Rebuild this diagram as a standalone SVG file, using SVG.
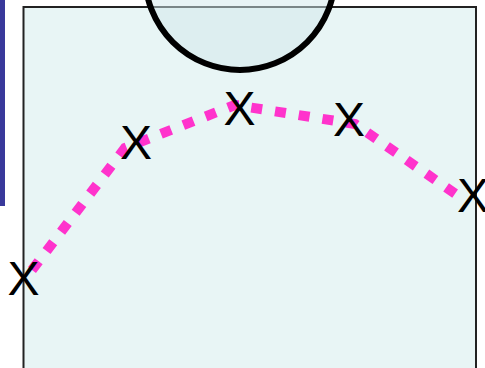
<svg xmlns="http://www.w3.org/2000/svg" width="485" height="368" viewBox="0 0 485 368">
  <style>
    .mark { font-family: "Liberation Sans", Arial, sans-serif; font-size: 48px; fill: #000; text-anchor: middle; }
    .curve { fill: none; stroke: #ff33cc; stroke-width: 10; stroke-dasharray: 11 13; stroke-linejoin: miter; }
  </style>
  <rect id="bar" x="0" y="0" width="5" height="206" fill="#39399b"/>
  <g id="field">
    <rect x="23.5" y="7" width="452.5" height="400" fill="#e8f5f5" stroke="#222" stroke-width="2"/>
  </g>
  <g id="circle">
    <circle cx="240" cy="-25" r="95" fill="#d2e7eb" fill-opacity="0.5" stroke="#000" stroke-width="6"/>
  </g>
  <g id="connectors">
    <path class="curve" d="M32,270 L125,148 L235,105 L355,124 L457,195"/>
  </g>
  <g id="marks">
    <g id="x1"><text class="mark" x="23.5" y="295">X</text></g>
    <g id="x2"><text class="mark" x="136" y="159">X</text></g>
    <g id="x3"><text class="mark" x="239.5" y="125">X</text></g>
    <g id="x4"><text class="mark" x="349" y="136">X</text></g>
    <g id="x5"><text class="mark" x="473" y="212">X</text></g>
  </g>
</svg>
